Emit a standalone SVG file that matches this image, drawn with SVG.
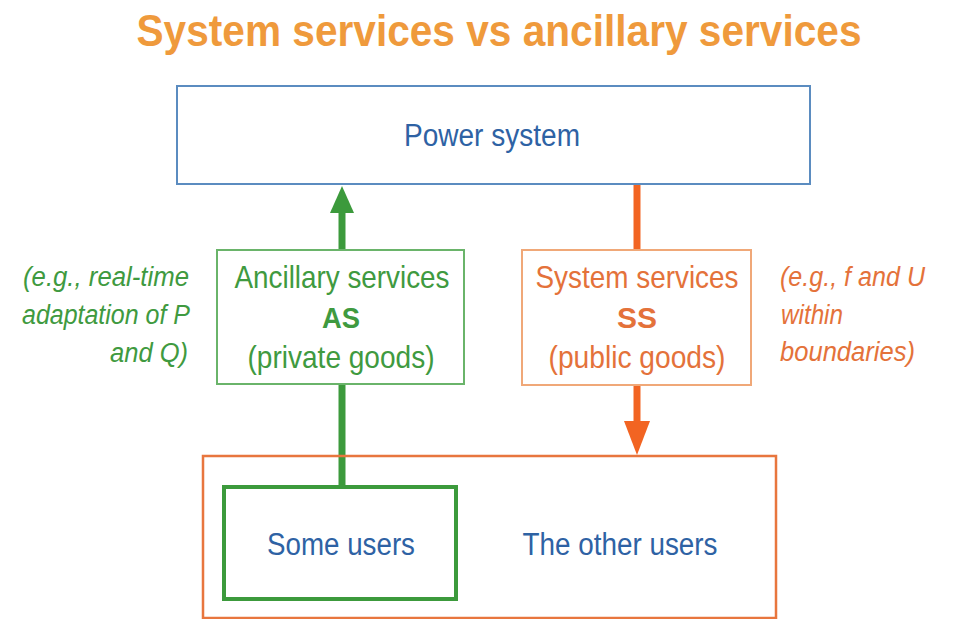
<svg xmlns="http://www.w3.org/2000/svg" width="953" height="619" viewBox="0 0 953 619">
<style>
text{font-family:"Liberation Sans",Arial,sans-serif}
.title{font-size:44px;font-weight:bold;fill:#ef9a3c}
.blue{font-size:31px;fill:#2e62a4}
.green{font-size:32px;fill:#3f9a40}
.orange{font-size:32px;fill:#e4723a}
.bold{font-size:29px;font-weight:bold}
.gi{font-size:27px;font-style:italic;fill:#3f9a40}
.oi{font-size:27px;font-style:italic;fill:#e4723a}
</style>
<rect width="953" height="619" fill="#ffffff"/>
<text class="title" x="499" y="46" text-anchor="middle" textLength="725" lengthAdjust="spacingAndGlyphs">System services vs ancillary services</text>
<g id="connectors">
<line x1="342" y1="250" x2="342" y2="210" stroke="#3c9a3c" stroke-width="7"/>
<polygon points="330,213 354,213 342,186" fill="#3c9a3c"/>
<line x1="342" y1="384" x2="342" y2="487" stroke="#3c9a3c" stroke-width="7"/>
<line x1="637" y1="184" x2="637" y2="250" stroke="#f26422" stroke-width="7"/>
<line x1="637" y1="385" x2="637" y2="424" stroke="#f26422" stroke-width="7"/>
<polygon points="624,421 650,421 637,455" fill="#f26422"/>
</g>
<g id="power-system">
<rect x="177" y="86" width="633" height="98" fill="none" stroke="#5b8cc0" stroke-width="2"/>
<text class="blue" x="492" y="146" text-anchor="middle" textLength="176" lengthAdjust="spacingAndGlyphs">Power system</text>
</g>
<g id="ancillary-services">
<rect x="217" y="250" width="247" height="134" fill="#ffffff" stroke="#6ab46a" stroke-width="2"/>
<text class="green" x="342" y="288" text-anchor="middle" textLength="215" lengthAdjust="spacingAndGlyphs">Ancillary services</text>
<text class="green bold" x="341" y="328" text-anchor="middle" textLength="38" lengthAdjust="spacingAndGlyphs">AS</text>
<text class="green" x="341" y="368" text-anchor="middle" textLength="187" lengthAdjust="spacingAndGlyphs">(private goods)</text>
</g>
<g id="as-note">
<text class="gi" x="189" y="286" text-anchor="end" textLength="166" lengthAdjust="spacingAndGlyphs">(e.g., real-time</text>
<text class="gi" x="190" y="324" text-anchor="end" textLength="168" lengthAdjust="spacingAndGlyphs">adaptation of P</text>
<text class="gi" x="188" y="362" text-anchor="end" textLength="78" lengthAdjust="spacingAndGlyphs">and Q)</text>
</g>
<g id="system-services">
<rect x="522" y="250" width="229" height="135" fill="#ffffff" stroke="#f0a878" stroke-width="2"/>
<text class="orange" x="637" y="288" text-anchor="middle" textLength="203" lengthAdjust="spacingAndGlyphs">System services</text>
<text class="orange bold" x="637" y="328" text-anchor="middle" textLength="40" lengthAdjust="spacingAndGlyphs">SS</text>
<text class="orange" x="637" y="368" text-anchor="middle" textLength="177" lengthAdjust="spacingAndGlyphs">(public goods)</text>
</g>
<g id="ss-note">
<text class="oi" x="780" y="286" textLength="145" lengthAdjust="spacingAndGlyphs">(e.g., f and U</text>
<text class="oi" x="781" y="324" textLength="62" lengthAdjust="spacingAndGlyphs">within</text>
<text class="oi" x="780" y="361" textLength="135" lengthAdjust="spacingAndGlyphs">boundaries)</text>
</g>
<g id="all-users">
<rect x="203" y="456" width="573" height="162" fill="none" stroke="#e8763e" stroke-width="2.5"/>
<text class="blue" x="620" y="555" text-anchor="middle" textLength="195" lengthAdjust="spacingAndGlyphs">The other users</text>
</g>
<g id="some-users">
<rect x="224" y="487" width="232" height="112" fill="#ffffff" stroke="#3c9a3c" stroke-width="4"/>
<text class="blue" x="341" y="555" text-anchor="middle" textLength="148" lengthAdjust="spacingAndGlyphs">Some users</text>
</g>
</svg>
